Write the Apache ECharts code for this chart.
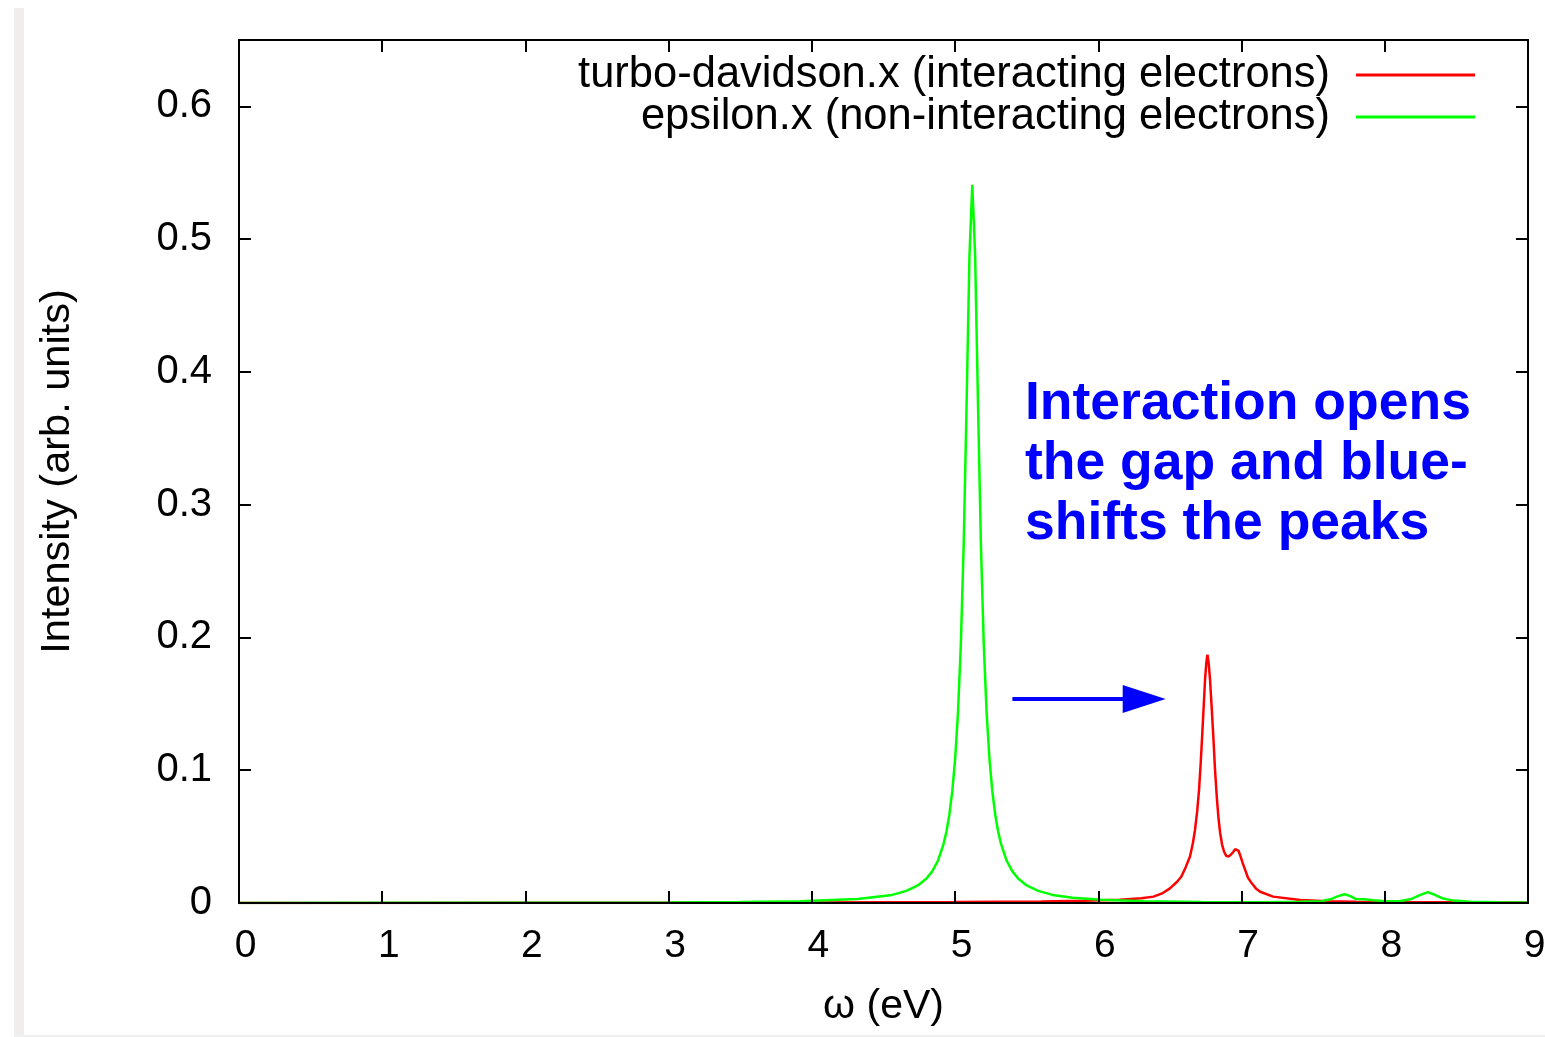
<!DOCTYPE html>
<html>
<head>
<meta charset="utf-8">
<title>Absorption spectrum: turbo-davidson.x vs epsilon.x</title>
<script src="https://cdn.jsdelivr.net/npm/echarts@6/dist/echarts.min.js"></script>
<style>
  html, body { margin: 0; padding: 0; background: #ffffff; }
  #chart { width: 1545px; height: 1037px; }
</style>
</head>
<body>
<div id="chart"></div>
<script>
// Tick positions of the two axes
const xTicks = [0, 1, 2, 3, 4, 5, 6, 7, 8, 9];
const yTicks = [0, 0.1, 0.2, 0.3, 0.4, 0.5, 0.6];
const yMax = 0.65;

// turbo-davidson.x (interacting electrons): energy (eV) and intensity
const turboEnergy = [
  0, 1, 2, 3, 4, 5, 5.6, 5.9, 6.15, 6.3, 6.385, 6.45, 6.5, 6.55, 6.58, 6.61,
  6.64, 6.66, 6.675, 6.69, 6.703, 6.715, 6.727, 6.737, 6.745, 6.754, 6.762,
  6.771, 6.78, 6.792, 6.804, 6.815, 6.827, 6.838, 6.85, 6.864, 6.878, 6.893,
  6.908, 6.925, 6.943, 6.956, 6.966, 6.978, 6.99, 7.008, 7.025, 7.045, 7.07,
  7.1, 7.13, 7.22, 7.41, 7.6, 7.8, 8.0, 8.3, 8.6, 9.0
];
const turboIntensity = [
  0.00005, 0.00006, 0.0001, 0.00015, 0.0003, 0.0007, 0.0012, 0.0017, 0.0025, 0.0036, 0.0048, 0.0075, 0.011, 0.016, 0.020, 0.027,
  0.035, 0.045, 0.055, 0.069, 0.085, 0.106, 0.130, 0.151, 0.168, 0.181, 0.187,
  0.180, 0.168, 0.146, 0.123, 0.100, 0.080, 0.065, 0.053, 0.044, 0.0386, 0.0355,
  0.035, 0.0363, 0.0386, 0.0405, 0.041, 0.0395, 0.036, 0.030, 0.025, 0.019, 0.015,
  0.011, 0.0085, 0.0048, 0.0023, 0.0014, 0.0010, 0.0008, 0.0006, 0.0005, 0.0004
];

// epsilon.x (non-interacting electrons): energy (eV) and intensity
const epsilonEnergy = [
  0, 1, 2, 3, 3.5, 3.92, 4.32, 4.56, 4.66, 4.74, 4.8, 4.84, 4.88, 4.92, 4.94,
  4.96, 4.98, 5.0, 5.02, 5.04, 5.06, 5.08, 5.1, 5.12, 5.14, 5.16, 5.18, 5.2,
  5.22, 5.24, 5.26, 5.28, 5.3, 5.32, 5.36, 5.4, 5.44, 5.5, 5.58, 5.68, 5.82,
  6.02, 6.32, 6.72, 7.12, 7.4, 7.56, 7.62, 7.67, 7.72, 7.76, 7.8, 7.86, 7.92,
  8.0, 8.1, 8.18, 8.24, 8.3, 8.35, 8.4, 8.48, 8.6, 8.8, 9.0
];
const epsilonIntensity = [
  0.00007, 0.00011, 0.0002, 0.00043, 0.00074, 0.00135, 0.003, 0.0061, 0.0091, 0.0132, 0.0184, 0.0238, 0.0318, 0.0447, 0.0541,
  0.0667, 0.084, 0.1082, 0.1432, 0.1948, 0.2706, 0.3746, 0.487, 0.541, 0.487, 0.3746, 0.2706, 0.1948,
  0.1432, 0.1082, 0.084, 0.0667, 0.0541, 0.0447, 0.0318, 0.0238, 0.0184, 0.0132, 0.0091, 0.0061, 0.0039,
  0.0024, 0.00135, 0.00076, 0.0005, 0.0009, 0.0014, 0.0028, 0.005, 0.0066, 0.0052, 0.003, 0.0028, 0.002,
  0.0013, 0.0014, 0.0028, 0.0058, 0.0082, 0.0062, 0.0036, 0.0018, 0.001, 0.0006, 0.0004
];

// Annotation arrow (eV, intensity)
const arrowStart = [5.40, 0.1536];
const arrowEnd = [6.32, 0.1536];

const seriesNames = [
  'turbo-davidson.x (interacting electrons)',
  'epsilon.x (non-interacting electrons)'
];

const FONT = '"Liberation Sans", Arial, Helvetica, sans-serif';
const pairs = (xs, ys) => xs.map((x, i) => [x, ys[i]]);

const chart = echarts.init(document.getElementById('chart'), null, { renderer: 'canvas' });

const frameLine = { show: true, onZero: false, lineStyle: { color: '#000000', width: 2 } };
const frameTick = { show: true, inside: true, length: 12, lineStyle: { color: '#000000', width: 2 } };

chart.setOption({
  animation: false,
  backgroundColor: '#ffffff',
  grid: { left: 239, right: 17, top: 40, bottom: 134, containLabel: false, outerBoundsMode: 'none' },
  legend: {
    data: seriesNames,
    orient: 'vertical',
    right: 65,
    top: 48,
    align: 'right',
    icon: 'rect',
    itemWidth: 119,
    itemHeight: 3,
    itemGap: -2,
    selectedMode: false,
    textStyle: { fontFamily: FONT, fontSize: 43.5, color: '#000000', padding: [0, 21, 0, 0] }
  },
  xAxis: [
    {
      type: 'value', position: 'bottom', z: 5,
      min: xTicks[0], max: xTicks[xTicks.length - 1], interval: xTicks[1] - xTicks[0],
      axisLine: frameLine, axisTick: frameTick, splitLine: { show: false },
      axisLabel: { fontFamily: FONT, fontSize: 39, color: '#000000', margin: 24, padding: [0, 0, 0, 13] },
      name: 'ω (eV)', nameLocation: 'middle', nameGap: 83,
      nameTextStyle: { fontFamily: FONT, fontSize: 41, color: '#000000' }
    },
    {
      type: 'value', position: 'top', z: 5,
      min: xTicks[0], max: xTicks[xTicks.length - 1], interval: xTicks[1] - xTicks[0],
      axisLine: frameLine, axisTick: frameTick, splitLine: { show: false },
      axisLabel: { show: false }
    }
  ],
  yAxis: [
    {
      type: 'value', position: 'left', z: 5,
      min: yTicks[0], max: yMax, interval: yTicks[1] - yTicks[0],
      axisLine: frameLine, axisTick: frameTick, splitLine: { show: false },
      axisLabel: {
        fontFamily: FONT, fontSize: 40, color: '#000000', margin: 27,
        showMaxLabel: false,
        formatter: v => (v === 0 ? '0' : v.toFixed(1))
      },
      name: 'Intensity (arb. units)', nameLocation: 'middle', nameGap: 160,
      nameTextStyle: { fontFamily: FONT, fontSize: 41.5, color: '#000000' }
    },
    {
      type: 'value', position: 'right', z: 5,
      min: yTicks[0], max: yMax, interval: yTicks[1] - yTicks[0],
      axisLine: frameLine, axisTick: frameTick, splitLine: { show: false },
      axisLabel: { show: false }
    }
  ],
  series: [
    {
      name: seriesNames[0],
      type: 'line',
      color: '#ff0000',
      showSymbol: false,
      symbol: 'none',
      lineStyle: { color: '#ff0000', width: 2.5 },
      data: pairs(turboEnergy, turboIntensity),
      z: 2
    },
    {
      name: seriesNames[1],
      type: 'line',
      color: '#00ff00',
      showSymbol: false,
      symbol: 'none',
      lineStyle: { color: '#00ff00', width: 2.5 },
      data: pairs(epsilonEnergy, epsilonIntensity),
      z: 3,
      markLine: {
        silent: true,
        animation: false,
        symbol: ['none', 'triangle'],
        symbolSize: [28, 43],
        label: { show: false },
        lineStyle: { color: '#0000ff', width: 4, type: 'solid' },
        itemStyle: { color: '#0000ff' },
        emphasis: { disabled: true },
        data: [[{ coord: arrowStart }, { coord: arrowEnd }]]
      }
    }
  ],
  graphic: [
    {
      type: 'rect', silent: true, z: -1,
      shape: { x: 14, y: 8, width: 10, height: 1029 },
      style: { fill: '#efeeec' }
    },
    {
      type: 'rect', silent: true, z: -1,
      shape: { x: 14, y: 1035, width: 1531, height: 2 },
      style: { fill: '#f0f0f0' }
    },
    {
      type: 'text', silent: true, left: 1025, top: 374, z: 10,
      style: {
        text: 'Interaction opens\nthe gap and blue-\nshifts the peaks',
        font: 'bold 53.5px ' + FONT,
        fill: '#0000ff',
        lineHeight: 60
      }
    }
  ]
});
</script>
</body>
</html>
